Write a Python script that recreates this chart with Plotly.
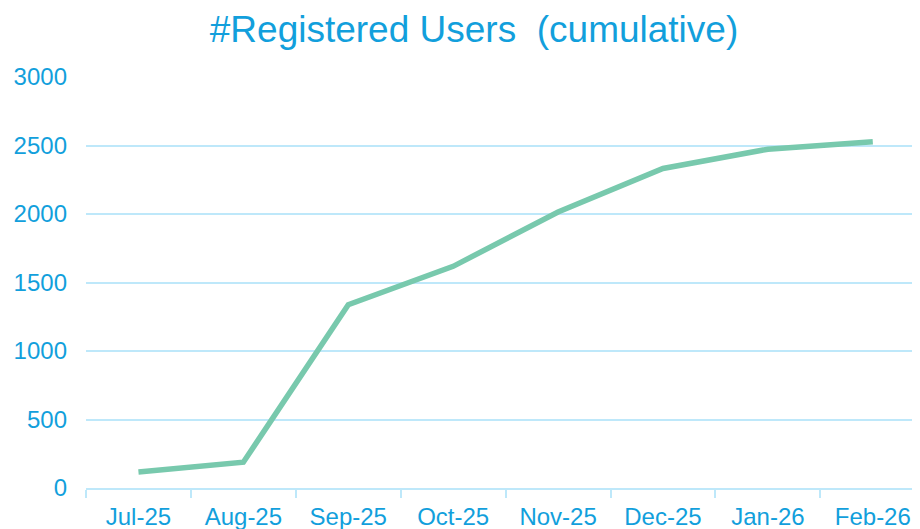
import plotly.graph_objects as go

months = ["Jul-25", "Aug-25", "Sep-25", "Oct-25", "Nov-25", "Dec-25", "Jan-26", "Feb-26"]
users = [117, 188, 1338, 1618, 2015, 2332, 2473, 2527]
y_ticks = [0, 500, 1000, 1500, 2000, 2500, 3000]

TXT = "#129fdc"
GRID = "#bee8fa"
LINE = "#78c9ad"

fig = go.Figure()
fig.add_trace(go.Scatter(
    x=months, y=users, mode="lines",
    line=dict(color=LINE, width=5.5),
    hoverinfo="x+y",
))

fig.update_layout(
    width=912, height=521,
    margin=dict(l=78, r=0, t=69, b=41),
    paper_bgcolor="white", plot_bgcolor="white",
    font=dict(family="Liberation Sans, Arial, sans-serif", color=TXT, size=24),
    title=dict(text="#Registered Users&nbsp; (cumulative)", x=466/912, xanchor="center",
               xref="container", y=0.985, yanchor="top",
               font=dict(size=37, color=TXT)),
    showlegend=False,
)
fig.update_xaxes(
    type="category", range=[-0.5, 7.45],
    showgrid=False, showline=True, linecolor=GRID, linewidth=2,
    ticks="outside", tickson="boundaries", ticklen=8, tickcolor=GRID, tickwidth=2,
    tickfont=dict(size=24, color=TXT), zeroline=False, ticklabelstandoff=6,
)
fig.update_yaxes(
    range=[0, 3000], tickvals=y_ticks,
    showgrid=True, gridcolor=GRID, gridwidth=2,
    zeroline=False, showline=False, ticks="",
    tickfont=dict(size=24, color=TXT), ticklabelstandoff=18,
)

fig.write_html("out.html")
